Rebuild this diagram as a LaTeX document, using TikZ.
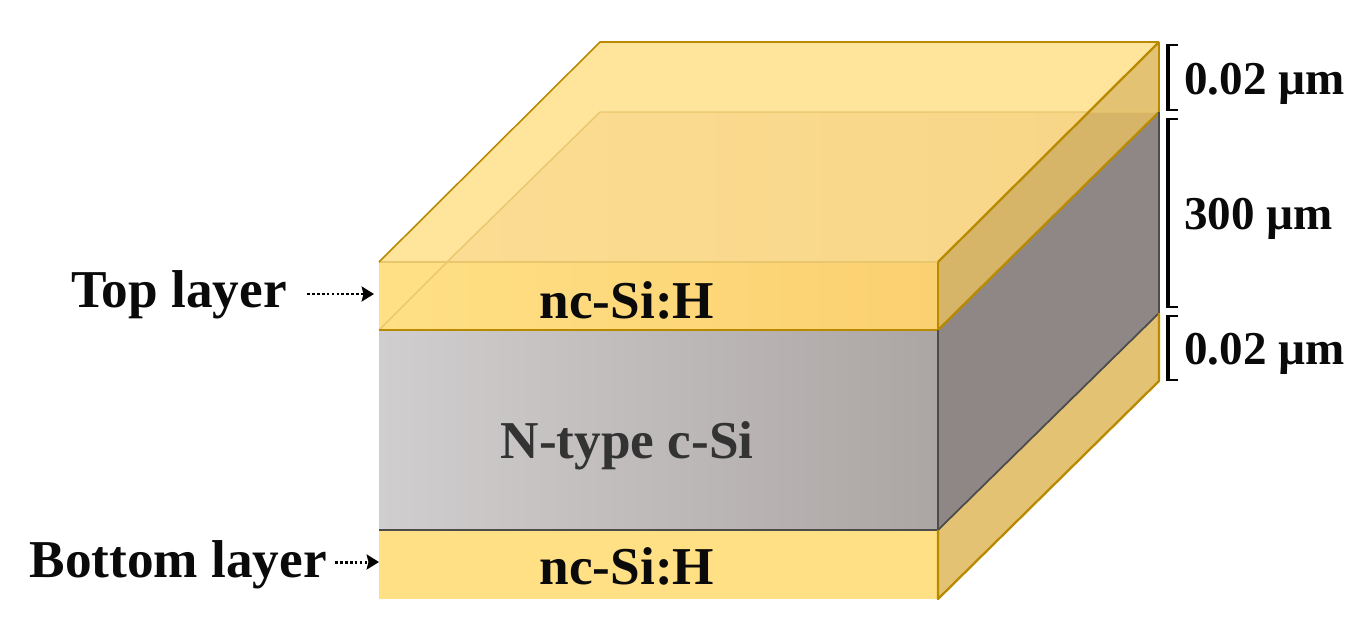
\documentclass[tikz,border=0pt]{standalone}
\usepackage{fontspec}
\setmainfont{Liberation Serif}
\usetikzlibrary{arrows.meta}
\definecolor{gold}{HTML}{B98A00}
\definecolor{txt}{HTML}{0A0A0A}
\definecolor{hiddenedge}{HTML}{E8C76E}
\definecolor{sidecol}{HTML}{E3C273}
\definecolor{greycol}{HTML}{8E8785}
\definecolor{overcol}{HTML}{D6B468}
\definecolor{topcol}{HTML}{FFE59C}
\definecolor{topa}{HTML}{FBDC92}
\definecolor{topb}{HTML}{F8D688}
\definecolor{fronta}{HTML}{FFE085}
\definecolor{frontb}{HTML}{FBD070}
\definecolor{sia}{HTML}{D1CECF}
\definecolor{sib}{HTML}{ABA6A4}
\newcommand{\fsz}{\fontsize{30.3}{32}\selectfont\bfseries}
\newcommand{\dsz}{\fontsize{26.8}{30}\selectfont\bfseries}
\tikzset{
  x=0.02cm,y=-0.02cm,
  goldline/.style={draw=gold,line width=1.3pt,line join=round},
  lightline/.style={draw=hiddenedge,line width=0.8pt},
  greyline/.style={draw=black!70,line width=1.3pt},
  lab/.style={inner sep=0pt,font=\fsz,text=txt},
  dimlab/.style={inner sep=0pt,font=\dsz,text=txt,anchor=base west},
  bracketline/.style={draw=black,line width=1.3pt},
  bracketspine/.style={draw=black,line width=2.1pt},
  dotarrow/.style={draw=black,line width=1.7pt,dash pattern=on 1.6pt off 1.2pt,
    -{Stealth[length=7pt,width=8.5pt,inset=1pt,sep=0pt]}},
}
\begin{document}
\begin{tikzpicture}
\useasboundingbox (0,0) rectangle (1372,636);
% named corners
\coordinate (fa) at (379,262); \coordinate (fb) at (938,262);
\coordinate (fc) at (379,330); \coordinate (fd) at (938,330);
\coordinate (fe) at (379,530); \coordinate (ff) at (938,530);
\coordinate (fg) at (379,599); \coordinate (fh) at (938,599);
\coordinate (ba) at (600,42);  \coordinate (bb) at (1159,42);
\coordinate (bc) at (600,112); \coordinate (bd) at (1159,112);
\coordinate (be) at (1159,313); \coordinate (bf) at (1159,381);
\coordinate (xt) at (1089,112);
\coordinate (xf) at (447,262);
% right side faces
\fill[fill=sidecol] (ff) -- (be) -- (bf) -- (fh) -- cycle;
\fill[fill=greycol] (fd) -- (bd) -- (be) -- (ff) -- cycle;
\fill[fill=sidecol] (fb) -- (bb) -- (bd) -- (xt) -- cycle;
\fill[fill=overcol] (fb) -- (xt) -- (bd) -- (fd) -- cycle;
% top face
\fill[fill=topcol] (fa) -- (ba) -- (bb) -- (xt) -- (bc) -- (xf) -- cycle;
\shade[left color=topa,right color=topb] (xf) -- (bc) -- (xt) -- (fb) -- cycle;
% front faces
\fill[fill=fronta] (fa) -- (xf) -- (fc) -- cycle;
\shade[left color=fronta,right color=frontb] (xf) -- (fb) -- (fd) -- (fc) -- cycle;
\shade[left color=sia,right color=sib] (fc) -- (fd) -- (ff) -- (fe) -- cycle;
\fill[fill=fronta] (fe) -- (ff) -- (fh) -- (fg) -- cycle;
% hidden edges
\draw[lightline] (fc) -- (xf);
\draw[lightline] (xf) -- (bc) -- (bd);
\draw[lightline] (fa) -- (fb);
% visible edges
\draw[goldline,line width=0.9pt] (fa) -- (ba) -- (bb);
\draw[goldline] (bb) -- (bd);
\draw[goldline] (fb) -- (bb);
\draw[goldline] (fd) -- (bd);
\draw[goldline] (fb) -- (fd);
\draw[goldline] (fc) -- (fd);
\draw[greyline] (fd) -- (ff);
\draw[greyline] (fe) -- (ff);
\draw[greyline,line width=1pt] (ff) -- (be) (bd) -- (be);
\draw[goldline] (be) -- (bf) -- (fh) -- (ff);
% labels on the faces
\node[lab,anchor=base] (ncone) at (627,318) {nc-Si:H};
\node[lab,anchor=base,text=black!80] (csi) at (627,458) {N-type c-Si};
\node[lab,anchor=base] (nctwo) at (627,584) {nc-Si:H};
% left labels
\node[lab,anchor=base east] (toplab) at (287,307) {Top layer};
\node[lab,anchor=base east] (botlab) at (327,577) {Bottom layer};
\coordinate (topfrom) at (307,294);
\coordinate (toptip) at (374,294);
\coordinate (botfrom) at (335,562);
\coordinate (bottip) at (379,562);
\draw[dotarrow] (topfrom) -- (toptip);
\draw[dotarrow] (botfrom) -- (bottip);
% dimension brackets
\node[dimlab] (dimone) at (1184,94) {0.02 µm};
\node[dimlab] (dimtwo) at (1184,229) {300 µm};
\node[dimlab] (dimthree) at (1184,364) {0.02 µm};
\draw[bracketline] (1178,45) -- (1168,45) (1168,110) -- (1178,110);
\draw[bracketspine] (1168,44) -- (1168,111);
\draw[bracketline] (1178,119) -- (1168,119) (1168,307) -- (1178,307);
\draw[bracketspine] (1168,118) -- (1168,308);
\draw[bracketline] (1178,316) -- (1168,316) (1168,380) -- (1178,380);
\draw[bracketspine] (1168,315) -- (1168,381);
\end{tikzpicture}
\end{document}
